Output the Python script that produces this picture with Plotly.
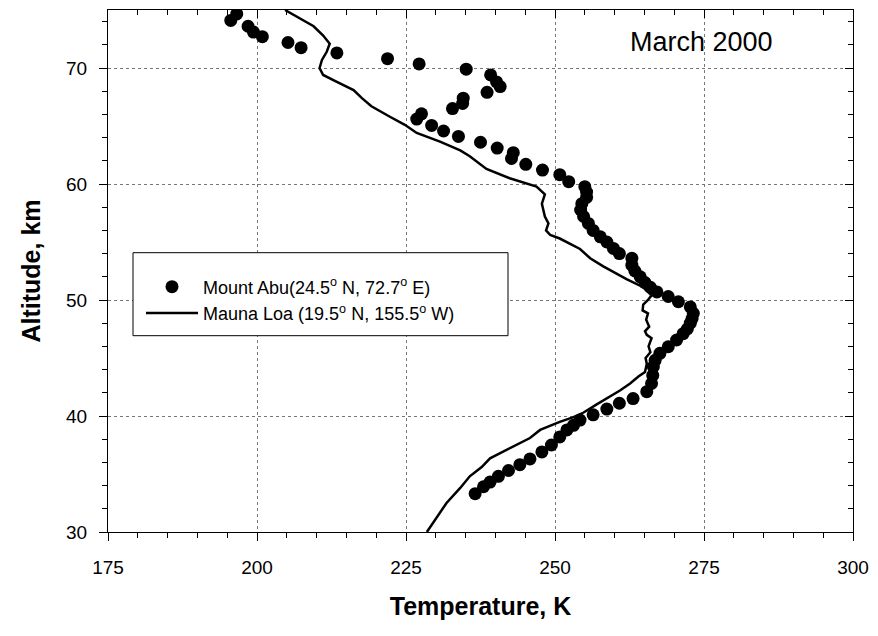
import plotly.graph_objects as go

# Mount Abu (24.5N, 72.7E) - temperature (K) and altitude (km)
abu_temp = [196.6, 195.6, 198.5, 199.4, 200.9, 205.2, 207.4, 213.4, 221.9, 227.2,
            235.1, 239.2, 240.2, 240.8, 238.6, 234.6, 234.5, 232.8, 227.6, 226.8,
            229.3, 231.3, 233.8, 237.5, 240.3, 243.0, 242.7, 245.1, 247.9, 250.8,
            252.3, 255.0, 255.3, 255.3, 254.5, 254.3, 254.8, 255.6, 256.4, 257.6,
            258.7, 259.8, 260.8, 262.9, 262.9, 263.4, 264.3, 265.1, 266.0, 267.1,
            269.0, 270.7, 272.7, 273.2, 273.0, 272.7, 272.2, 271.5, 270.4, 269.0,
            267.6, 266.8, 266.5, 266.4, 266.2, 265.4, 263.1, 260.8, 258.7, 256.4,
            254.2, 253.1, 252.0, 250.8, 249.4, 247.8, 245.8, 244.1, 242.2, 240.5,
            239.1, 238.0, 236.6]
abu_alt = [74.66, 74.1, 73.6, 73.1, 72.7, 72.2, 71.75, 71.3, 70.8, 70.35,
           69.9, 69.4, 68.8, 68.4, 67.9, 67.4, 66.95, 66.5, 66.05, 65.6,
           65.05, 64.57, 64.1, 63.6, 63.1, 62.7, 62.2, 61.7, 61.2, 60.8,
           60.2, 59.77, 59.3, 58.85, 58.3, 57.76, 57.2, 56.6, 56.0, 55.45,
           55.0, 54.45, 54.0, 53.6, 53.0, 52.5, 52.0, 51.5, 51.1, 50.7,
           50.3, 49.85, 49.4, 48.85, 48.4, 48.0, 47.5, 47.1, 46.55, 45.97,
           45.4, 44.8, 44.25, 43.5, 42.8, 42.1, 41.5, 41.1, 40.6, 40.1,
           39.65, 39.2, 38.8, 38.2, 37.5, 36.9, 36.3, 35.8, 35.3, 34.8,
           34.3, 33.9, 33.3]

# Mauna Loa (19.5N, 155.5W)
loa_temp = [204.7, 207.2, 209.5, 211.1, 212.2, 211.7, 210.9, 210.5, 211.1, 213.4,
            216.2, 217.6, 219.2, 222.3, 224.8, 226.8, 230.7, 234.1, 235.7, 238.5,
            242.4, 246.9, 248.3, 247.8, 248.3, 248.9, 248.5, 249.2, 250.8, 254.2,
            255.9, 258.1, 260.9, 262.0, 264.8, 266.2, 265.6, 264.8, 264.7, 265.6,
            265.3, 265.8, 265.1, 265.4, 266.2, 265.7, 266.0, 265.2, 265.4, 265.1,
            264.0, 262.6, 260.9, 259.2, 257.0, 254.8, 253.1, 250.8, 247.5, 245.8,
            243.6, 240.8, 239.1, 237.7, 235.7, 234.1, 231.8, 229.6, 228.5]
loa_alt = [75.0, 74.3, 73.6, 72.8, 72.1, 71.4, 70.7, 70.0, 69.4, 68.8,
           68.1, 67.4, 66.7, 65.8, 65.1, 64.4, 63.65, 62.9, 62.4, 61.3,
           60.5, 59.77, 59.1, 58.3, 57.2, 56.6, 56.0, 55.6, 55.3, 54.4,
           53.6, 52.9, 52.1, 51.8, 51.1, 50.4, 50.0, 49.6, 49.1, 48.85,
           48.3, 47.7, 47.3, 47.0, 46.7, 46.0, 45.5, 45.0, 44.5, 43.8,
           43.4, 42.8, 42.2, 41.7, 41.0, 40.3, 39.9, 39.5, 38.8, 38.1,
           37.5, 36.8, 36.35, 35.6, 34.8, 33.8, 32.5, 30.9, 30.0]

x_range = [175, 300]
y_range = [30, 75]
x_ticks = [175, 200, 225, 250, 275, 300]
y_ticks = [30, 40, 50, 60, 70]

FONT = "Arial, Liberation Sans, sans-serif"

fig = go.Figure()
fig.add_trace(go.Scatter(
    x=abu_temp, y=abu_alt, mode="markers",
    name="Mount Abu(24.5<sup>o</sup> N, 72.7<sup>o</sup> E)",
    marker=dict(color="black", size=13, line=dict(width=0)),
))
fig.add_trace(go.Scatter(
    x=loa_temp, y=loa_alt, mode="lines",
    name="Mauna Loa (19.5<sup>o</sup> N, 155.5<sup>o</sup> W)",
    line=dict(color="black", width=2.5),
    xaxis="x2", yaxis="y2",
))

axis_common = dict(
    showline=True, linecolor="black", linewidth=1,
    zeroline=False,
)

fig.update_layout(
    width=878, height=636,
    margin=dict(l=108, r=25, t=10, b=104),
    paper_bgcolor="white", plot_bgcolor="white",
    font=dict(family=FONT, color="black"),
    xaxis=dict(
        range=x_range, tickvals=x_ticks, ticks="outside", ticklen=8,
        tickcolor="black", tickfont=dict(size=19), ticklabelstandoff=10,
        showgrid=True, gridcolor="#777777", griddash="dot", gridwidth=1,
        minor=dict(dtick=5, tick0=175, ticks="outside", ticklen=5, tickcolor="black", showgrid=False),
        title=dict(text="<b>Temperature, K</b>", font=dict(size=25), standoff=20),
        **axis_common,
    ),
    yaxis=dict(
        range=y_range, tickvals=y_ticks, ticks="outside", ticklen=8,
        tickcolor="black", tickfont=dict(size=19), ticklabelstandoff=8,
        showgrid=True, gridcolor="#777777", griddash="dot", gridwidth=1,
        minor=dict(dtick=2, tick0=30, ticks="outside", ticklen=5, tickcolor="black", showgrid=False),
        title=dict(text="<b>Altitude, km</b>", font=dict(size=25), standoff=18),
        **axis_common,
    ),
    xaxis2=dict(
        overlaying="x", side="top", anchor="y2", range=x_range,
        tickvals=x_ticks, ticks="inside", ticklen=8, tickcolor="black",
        showticklabels=False, showgrid=False,
        minor=dict(dtick=5, tick0=175, ticks="inside", ticklen=5, tickcolor="black", showgrid=False),
        **axis_common,
    ),
    yaxis2=dict(
        overlaying="y", side="right", anchor="x2", range=y_range,
        tickvals=y_ticks, ticks="inside", ticklen=8, tickcolor="black",
        showticklabels=False, showgrid=False,
        minor=dict(dtick=2, tick0=30, ticks="inside", ticklen=5, tickcolor="black", showgrid=False),
        **axis_common,
    ),
    legend=dict(
        x=(141 - 108) / 745, xanchor="left", y=(532 - 300) / 522, yanchor="middle",
        bgcolor="rgba(0,0,0,0)", borderwidth=0, itemwidth=52,
        font=dict(size=18, family=FONT), itemclick=False, tracegroupgap=0,
    ),
    shapes=[dict(
        type="rect", xref="paper", yref="paper", layer="above",
        x0=(133 - 108) / 745, x1=(508 - 108) / 745,
        y0=(532 - 335.7) / 522, y1=(532 - 252.7) / 522,
        line=dict(color="black", width=1), fillcolor="white",
    )],
    annotations=[dict(
        text="March 2000", xref="paper", yref="paper",
        x=(701 - 108) / 745, y=(532 - 42) / 522, xanchor="center", yanchor="middle",
        showarrow=False, font=dict(size=27, family=FONT),
    )],
    showlegend=True,
)

fig.write_html("out.html")
